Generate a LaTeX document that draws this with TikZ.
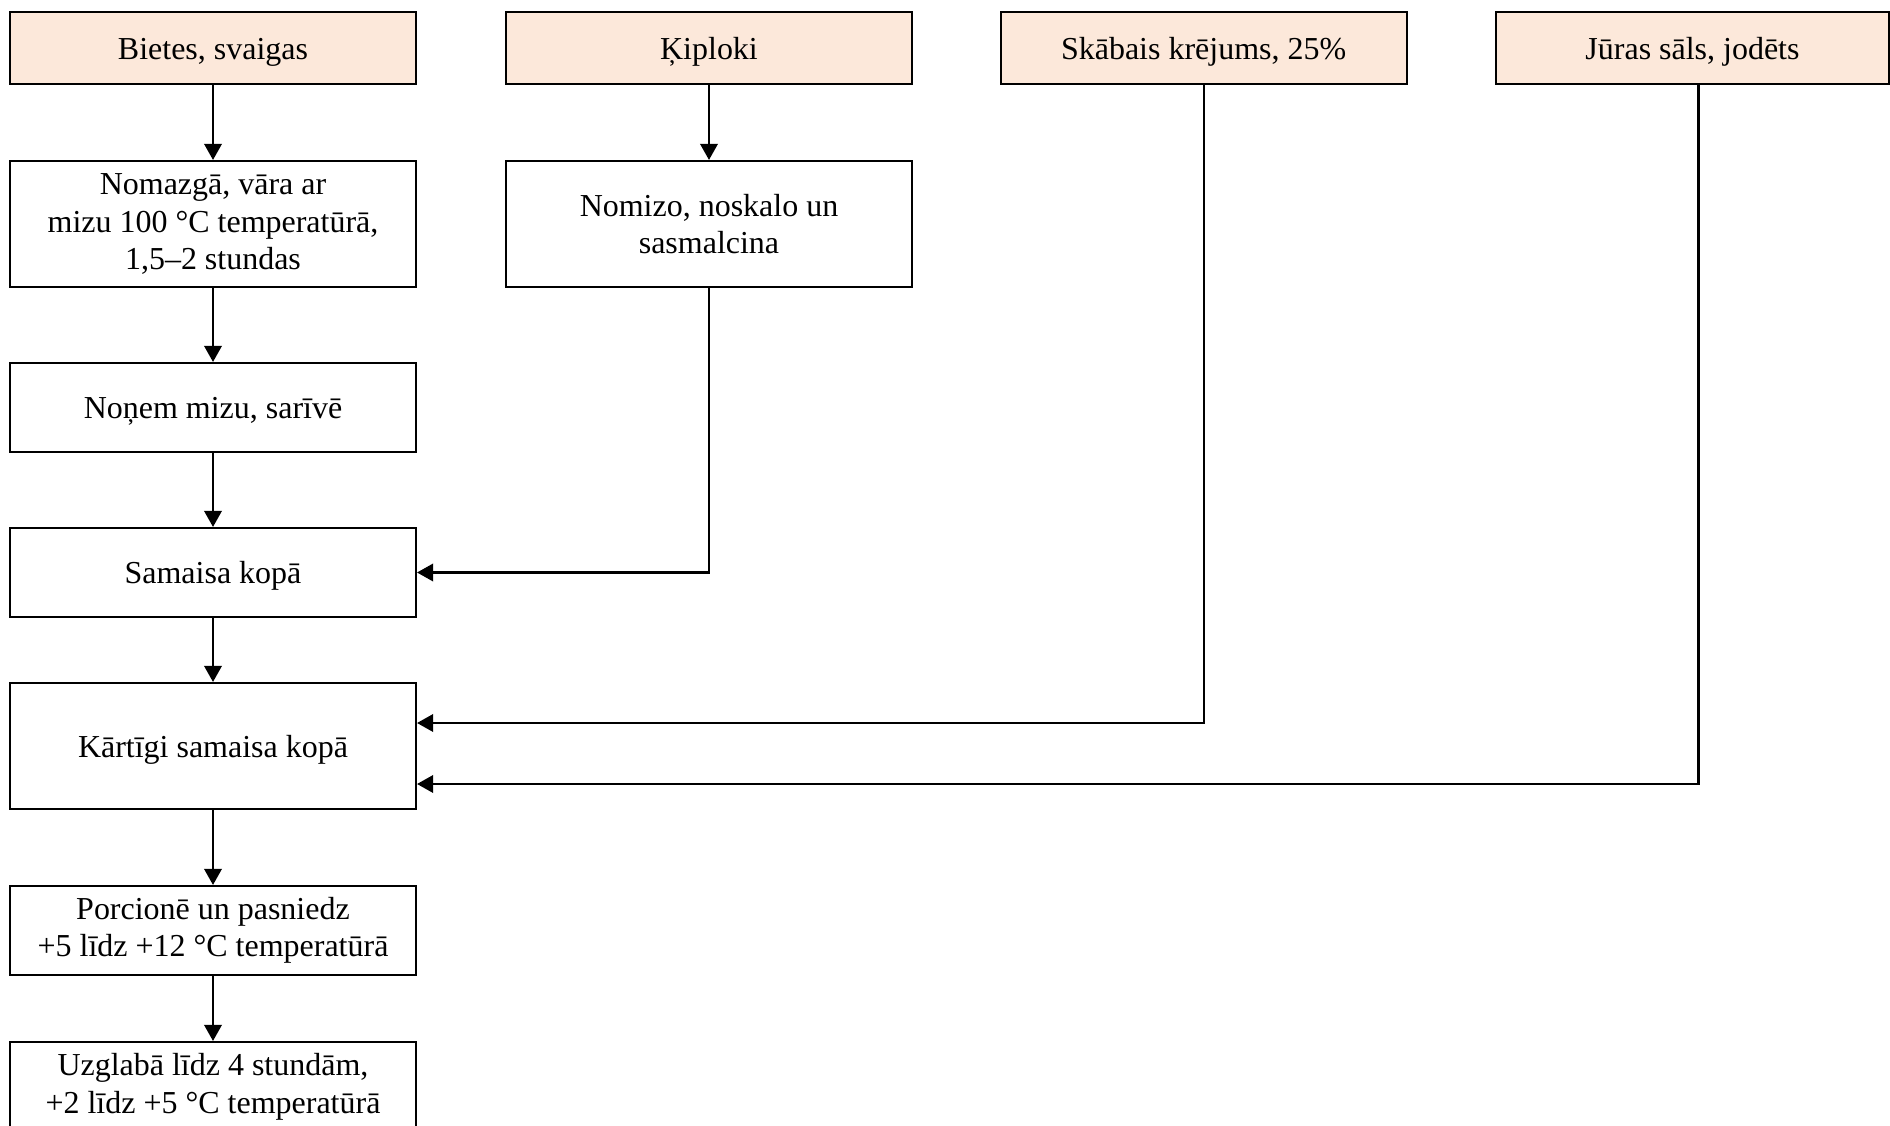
\documentclass[tikz,border=0pt]{standalone}
\usepackage{fontspec}
\setmainfont{Liberation Serif}
\usetikzlibrary{arrows.meta}
\definecolor{peach}{HTML}{FCE8DA}

\tikzset{
  procbox/.style={draw, line width=0.6pt, minimum width=4.06cm, align=center,
    inner sep=0pt, font=\fontsize{9.1}{10.7}\selectfont,
    execute at begin node={\rule{0pt}{0.92em}}},
  ingbox/.style={procbox, fill=peach, minimum height=0.72cm},
  flow/.style={line width=0.6pt, -{Triangle[length=4.6pt,width=5pt]}}
}

\begin{document}
\begin{tikzpicture}
		%%%%% FRAME %%%%%
		\path[use as bounding box, fill=white] (0,0) rectangle (18.9,-11.26);
		
		%%%%% INGREDIENTS %%%%%
		\node[ingbox] (biet) at (2.13,-0.48) {Bietes, svaigas};
		\node[ingbox] (kip) at (7.09,-0.48) {Ķiploki};
		\node[ingbox] (skab) at (12.036,-0.48) {Skābais krējums, 25\%};
		\node[ingbox, minimum width=3.93cm] (jur) at (16.925,-0.48) {Jūras sāls, jodēts};
		
		%%%%% STEPS %%%%%
		\node[procbox, minimum height=1.26cm] (vara) at (2.13,-2.24) {Nomazgā, vāra ar\\mizu 100 °C temperatūrā,\\1,5–2 stundas};
		\node[procbox, minimum height=1.26cm] (mizo) at (7.09,-2.24) {Nomizo, noskalo un\\sasmalcina};
		\node[procbox, minimum height=0.89cm] (riv) at (2.13,-4.075) {Noņem mizu, sarīvē};
		\node[procbox, minimum height=0.89cm] (sam) at (2.13,-5.725) {Samaisa kopā};
		\node[procbox, minimum height=1.26cm] (kart) at (2.13,-7.46) {Kārtīgi samaisa kopā};
		\node[procbox, minimum height=0.89cm] (porc) at (2.13,-9.305) {Porcionē un pasniedz\\+5 līdz +12 °C temperatūrā};
		\node[procbox, minimum height=0.89cm] (uzgl) at (2.13,-10.865) {Uzglabā līdz 4 stundām,\\+2 līdz +5 °C temperatūrā};
		
		%%%%% ARROWS %%%%%
		\foreach \a/\b in {biet/vara, vara/riv, riv/sam, sam/kart, kart/porc, porc/uzgl}
			\draw[flow] (\a) -- (\b);
		\draw[flow] (kip) -- (mizo);
		\draw[flow] (mizo.south) |- (sam.east);
		\draw[flow] (skab.south) |- ([yshift=0.23cm]kart.east);
		\draw[flow] ([xshift=0.06cm]jur.south) |- ([yshift=-0.38cm]kart.east);
		
		%%%%% END %%%%%
	\end{tikzpicture}
\end{document}
